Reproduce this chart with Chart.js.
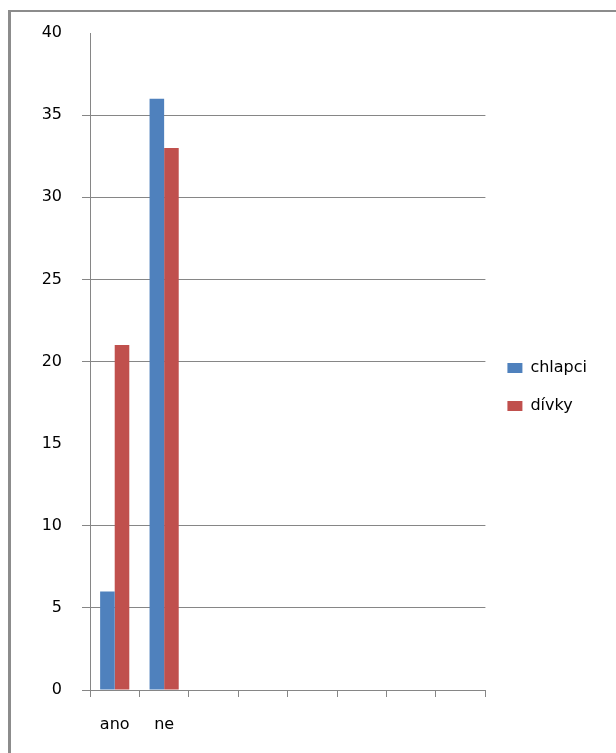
<!DOCTYPE html>
<html lang="cs">
<head>
<meta charset="UTF-8">
<title>chlapci / dívky</title>
<script src="https://cdn.jsdelivr.net/npm/chart.js"></script>
<style>
    html, body {
        margin: 0;
        padding: 0;
        background: #fff;
    }
    .frame {
        position: absolute;
        left: 8px;
        top: 10px;
        right: 0;
        bottom: 0;
        border-left: 3px solid #8c8c8c;
        border-top: 2px solid #8c8c8c;
    }
    .chart-box {
        position: absolute;
        left: 0;
        top: 0;
        width: 616px;
        height: 753px;
    }
</style>
</head>
<body>
<div class="frame"></div>
<div class="chart-box"><canvas id="chart"></canvas></div>

<script>
    // categories (only the first two are filled)
    const categories = ['ano', 'ne', '', '', '', '', '', ''];
    const chlapci = [6, 36];
    const divky = [21, 33];
    const yTicks = [0, 5, 10, 15, 20, 25, 30, 35, 40];

    const gridGray = '#868686';

    new Chart(document.getElementById('chart'), {
        type: 'bar',
        data: {
            labels: categories,
            datasets: [
                { label: 'chlapci', data: chlapci, backgroundColor: '#4F81BD' },
                { label: 'dívky', data: divky, backgroundColor: '#C0504D' }
            ]
        },
        options: {
            responsive: true,
            maintainAspectRatio: false,
            animation: false,
            categoryPercentage: 0.59,
            barPercentage: 1,
            font: { family: 'DejaVu Sans', size: 16 },
            layout: { padding: { top: 33, right: 19, bottom: 12, left: 0 } },
            plugins: {
                tooltip: { enabled: false },
                legend: {
                    position: 'right',
                    labels: {
                        color: '#000',
                        boxWidth: 15,
                        boxHeight: 10,
                        padding: 22,
                        font: { family: 'DejaVu Sans', size: 16 }
                    }
                }
            },
            scales: {
                x: {
                    grid: {
                        drawOnChartArea: false,
                        tickLength: 7,
                        color: gridGray
                    },
                    border: { color: gridGray },
                    ticks: {
                        color: '#000',
                        padding: 18,
                        maxRotation: 0,
                        autoSkip: false,
                        font: { family: 'DejaVu Sans', size: 16 }
                    },
                    afterFit: s => { s.height = 51; }
                },
                y: {
                    min: 0,
                    max: 40,
                    afterBuildTicks: s => { s.ticks = yTicks.map(v => ({ value: v })); },
                    grid: {
                        tickLength: 8,
                        // no line drawn at 15 and at the top
                        color: c => (c.tick && (c.tick.value === 15 || c.tick.value === 40)) ? 'rgba(0,0,0,0)' : gridGray
                    },
                    border: { color: gridGray },
                    ticks: {
                        color: '#000',
                        padding: 20,
                        font: { family: 'DejaVu Sans', size: 16 }
                    },
                    afterFit: s => { s.width = 90; }
                }
            }
        }
    });
</script>
</body>
</html>
